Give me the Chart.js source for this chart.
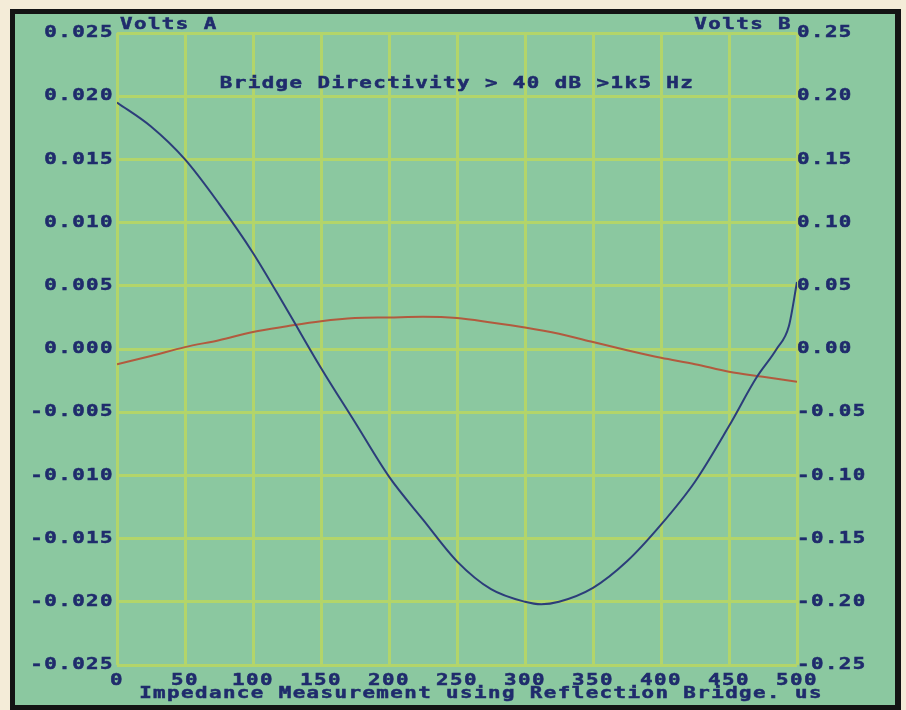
<!DOCTYPE html>
<html>
<head>
<meta charset="utf-8">
<script src="https://cdn.jsdelivr.net/npm/chart.js@4"></script>
<style>
  html, body { margin: 0; padding: 0; background: #f4ecd8; }
  body { width: 906px; height: 710px; position: relative; overflow: hidden; }
  #frame { position: absolute; left: 10px; top: 9px; width: 880px; height: 691px;
           border: 5px solid #141414; border-right-width: 6px; background: #8bc8a0; }
  #wrap { position: absolute; left: 0; top: 0; width: 880px; height: 691px; }
</style>
</head>
<body>
<div id="frame"><div id="wrap"><canvas id="c" width="880" height="691"></canvas></div></div>
<script>
// ---- data ----
const timeA  = [0, 25, 50, 75, 100, 125, 150, 175, 200, 225, 250, 275, 300, 312, 325, 350, 375, 400, 425, 450, 470, 485, 494, 500];
const voltsA = [0.0195, 0.0176, 0.0150, 0.0115, 0.0076, 0.0031, -0.0015, -0.0058, -0.0101, -0.0135, -0.0168, -0.0190, -0.0200, -0.0202, -0.0200, -0.0189, -0.0168, -0.0139, -0.0105, -0.0061, -0.0023, 0.0000, 0.0018, 0.0053];
const timeB  = [0, 25, 50, 75, 100, 125, 150, 175, 200, 225, 250, 275, 300, 325, 350, 375, 400, 425, 450, 475, 500];
const voltsB = [-0.012, -0.0055, 0.0015, 0.007, 0.0135, 0.018, 0.022, 0.0245, 0.025, 0.0255, 0.0245, 0.021, 0.017, 0.012, 0.0055, -0.001, -0.007, -0.012, -0.018, -0.022, -0.026];
const titleText  = 'Bridge Directivity > 40 dB >1k5 Hz';
const axisAText  = 'Volts A';
const axisBText  = 'Volts B';
const xAxisText  = 'Impedance Measurement using Reflection Bridge. us';
const xRange  = [0, 500, 50];
const aRange  = [-0.025, 0.025, 0.005];
const bRange  = [-0.25, 0.25, 0.05];

const INK = '#1f2b6c';
const GRID = '#b3d56a';
const FONT = "'DejaVu Sans Mono', monospace";
const SPACING = '1.1px';
const STRETCH = 1.3;

const pairs = (xs, ys) => xs.map((x, i) => ({ x: x, y: ys[i] }));
const clean = v => (Math.abs(v) < 1e-9 ? 0 : v);

// widen the glyphs horizontally, like the wide bitmap font of the original screen
function patchText(ctx) {
  if (ctx.__patched) return;
  ctx.__patched = true;
  const orig = ctx.fillText.bind(ctx);
  ctx.fillText = function (text, x, y, maxWidth) {
    ctx.save();
    ctx.letterSpacing = SPACING;
    ctx.translate(x, y);
    ctx.scale(STRETCH, 1);
    ctx.strokeStyle = ctx.fillStyle;
    ctx.lineWidth = 0.5;
    ctx.strokeText(text, 0, 0);
    orig(text, 0, 0);
    ctx.restore();
  };
}

const textPlugin = {
  id: 'wideText',
  beforeDraw(chart) { patchText(chart.ctx); },
  afterDraw(chart) {
    const ctx = chart.ctx;
    const a = chart.chartArea;
    ctx.save();
    ctx.fillStyle = INK;
    ctx.font = 'bold 16px ' + FONT;
    ctx.textBaseline = 'middle';
    ctx.textAlign = 'left';
    ctx.fillText(axisAText, a.left + 3, 11);
    ctx.textAlign = 'right';
    ctx.fillText(axisBText, a.right - 5, 11);
    ctx.textAlign = 'center';
    ctx.fillText(titleText, 442, 70);
    ctx.fillText(xAxisText, 466, 680);
    ctx.restore();
  }
};

new Chart(document.getElementById('c'), {
  type: 'line',
  data: {
    datasets: [
      { label: 'A', data: pairs(timeA, voltsA), yAxisID: 'yA', borderColor: '#2c3d7a',
        borderWidth: 2, pointRadius: 0, cubicInterpolationMode: 'monotone', fill: false },
      { label: 'B', data: pairs(timeB, voltsB), yAxisID: 'yB', borderColor: '#b25a3e',
        borderWidth: 2, pointRadius: 0, cubicInterpolationMode: 'monotone', fill: false }
    ]
  },
  options: {
    responsive: false,
    animation: false,
    events: [],
    layout: { padding: { top: 19, left: 0, right: 0, bottom: 0 } },
    plugins: { legend: { display: false }, tooltip: { enabled: false }, title: { display: false } },
    scales: {
      x: {
        type: 'linear', min: xRange[0], max: xRange[1],
        afterFit(s) { s.height = 40; },
        grid: { color: GRID, lineWidth: 3, drawTicks: false },
        border: { display: false },
        ticks: { stepSize: xRange[2], autoSkip: false, maxRotation: 0, padding: 6, color: INK,
                 font: { family: FONT, size: 16, weight: 'bold' } }
      },
      yA: {
        type: 'linear', position: 'left', min: aRange[0], max: aRange[1],
        afterFit(s) { s.width = 102; },
        grid: { color: GRID, lineWidth: 3, drawTicks: false },
        border: { display: false },
        ticks: { stepSize: aRange[2], padding: 3, color: INK,
                 font: { family: FONT, size: 16, weight: 'bold' },
                 callback: v => clean(v).toFixed(3) }
      },
      yB: {
        type: 'linear', position: 'right', min: bRange[0], max: bRange[1],
        afterFit(s) { s.width = 98; },
        grid: { drawOnChartArea: false, drawTicks: false },
        border: { display: false },
        ticks: { stepSize: bRange[2], padding: 0, color: INK,
                 font: { family: FONT, size: 16, weight: 'bold' },
                 callback: v => clean(v).toFixed(2) }
      }
    }
  },
  plugins: [textPlugin]
});
</script>
</body>
</html>
